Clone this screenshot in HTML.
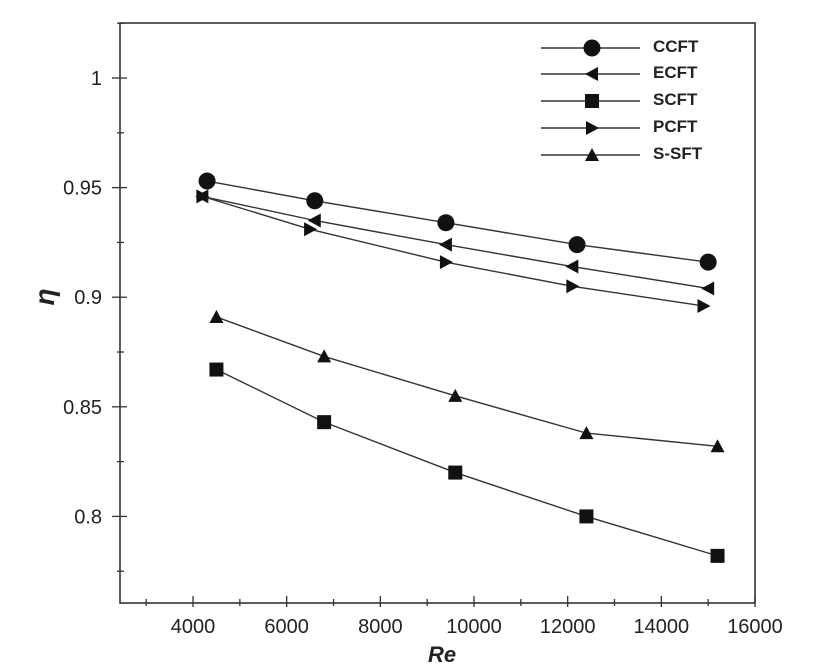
<!DOCTYPE html>
<html><head><meta charset="utf-8"><style>
body{margin:0;background:#fff;}
svg{display:block;font-family:"Liberation Sans",Arial,sans-serif;}
</style></head><body>
<svg id="chart" width="830" height="672" viewBox="0 0 830 672">
<g id="axes"></g>
<g id="series"></g>
<g id="legend"></g>
</svg>
<script>
const xTicks=[4000,6000,8000,10000,12000,14000,16000];
const yTicks=[0.8,0.85,0.9,0.95,1];
const yTickLabels=["0.8","0.85","0.9","0.95","1"];
const names=["CCFT","ECFT","SCFT","PCFT","S-SFT"];
const markers=["circle","left","square","right","up"];
const ccftX=[4300,6600,9400,12200,15000];
const ccftY=[0.953,0.944,0.934,0.924,0.916];
const ecftX=[4200,6600,9400,12100,15000];
const ecftY=[0.946,0.935,0.924,0.914,0.904];
const scftX=[4500,6800,9600,12400,15200];
const scftY=[0.867,0.843,0.820,0.800,0.782];
const pcftX=[4200,6500,9400,12100,14900];
const pcftY=[0.946,0.931,0.916,0.905,0.896];
const ssftX=[4500,6800,9600,12400,15200];
const ssftY=[0.891,0.873,0.855,0.838,0.832];
const seriesX=[ccftX,ecftX,scftX,pcftX,ssftX];
const seriesY=[ccftY,ecftY,scftY,pcftY,ssftY];

const L=120,R=755,T=23,B=603;
const xMin=2441,xMax=16000,yMin=0.7605,yMax=1.0251;
const sx=v=>L+(v-xMin)/(xMax-xMin)*(R-L);
const sy=v=>B-(v-yMin)/(yMax-yMin)*(B-T);
const NS="http://www.w3.org/2000/svg";
function mk(tag,attrs,parent){const e=document.createElementNS(NS,tag);for(const k in attrs)e.setAttribute(k,attrs[k]);parent.appendChild(e);return e;}
const ax=document.getElementById('axes');
let f=mk('rect',{x:L,y:T,width:R-L,height:B-T,fill:'none',stroke:'#333','stroke-width':1.6},ax);


for(let v=3000;v<=16000;v+=1000){
  const major=v%2000===0;
  const t=mk('line',{x1:sx(v),x2:sx(v),y1:B-(major?7:4),y2:B+(major?4:3),stroke:'#333','stroke-width':1.3},ax);
  
  
}
xTicks.forEach(v=>{
  const t=mk('text',{x:sx(v),y:B+30,'text-anchor':'middle','font-size':20,fill:'#222'},ax);
  t.textContent=String(v);
  
  
});
for(let i=0;i<12;i++){
  const v=0.775+i*0.025;
  if(v>yMax)break;
  const major=i%2===1;
  const t=mk('line',{x1:L-(major?8:3),x2:L+(major?7:4),y1:sy(v),y2:sy(v),stroke:'#333','stroke-width':1.3},ax);
  
  
}
yTicks.forEach((v,i)=>{
  const t=mk('text',{x:L-18,y:sy(v)+7,'text-anchor':'end','font-size':20,fill:'#222'},ax);
  t.textContent=yTickLabels[i];
  
  
});
let xt=mk('text',{x:442,y:662,'text-anchor':'middle','font-size':22,'font-weight':'bold','font-style':'italic',fill:'#222'},ax);
xt.textContent='Re';


let yt=mk('text',{x:0,y:0,'text-anchor':'middle','font-size':28,'font-weight':'bold','font-style':'italic',fill:'#222',transform:'translate(54,297) rotate(-90)'},ax);
yt.textContent='η';



function marker(type,x,y,parent){
  let e;
  if(type==='circle')e=mk('circle',{cx:x,cy:y,r:8.5,fill:'#111'},parent);
  else if(type==='square')e=mk('rect',{x:x-7,y:y-7,width:14,height:14,fill:'#111'},parent);
  else if(type==='left')e=mk('polygon',{points:`${x-7},${y} ${x+6},${y-7} ${x+6},${y+7}`,fill:'#111'},parent);
  else if(type==='right')e=mk('polygon',{points:`${x+7},${y} ${x-6},${y-7} ${x-6},${y+7}`,fill:'#111'},parent);
  else e=mk('polygon',{points:`${x},${y-7} ${x-7},${y+6} ${x+7},${y+6}`,fill:'#111'},parent);
  return e;
}
const sg=document.getElementById('series');
names.forEach((n,i)=>{
  const g=mk('g',{},sg);
  
  
  const pts=seriesX[i].map((x,j)=>sx(x)+','+sy(seriesY[i][j])).join(' ');
  const pl=mk('polyline',{points:pts,fill:'none',stroke:'#333','stroke-width':1.4},g);
  
  
  seriesX[i].forEach((x,j)=>{
    const m=marker(markers[i],sx(x),sy(seriesY[i][j]),g);
    
    
  });
});
const lg=document.getElementById('legend');
const rowsY=[48,74,101,128,155];
names.forEach((n,i)=>{
  const g=mk('g',{},lg);
  
  
  mk('line',{x1:541,x2:640,y1:rowsY[i],y2:rowsY[i],stroke:'#333','stroke-width':1.4},g);
  marker(markers[i],592,rowsY[i],g);
  const t=mk('text',{x:653,y:rowsY[i]+4,'font-size':17,'font-weight':'bold',fill:'#222'},g);
  t.textContent=n;
});
</script>
</body></html>
